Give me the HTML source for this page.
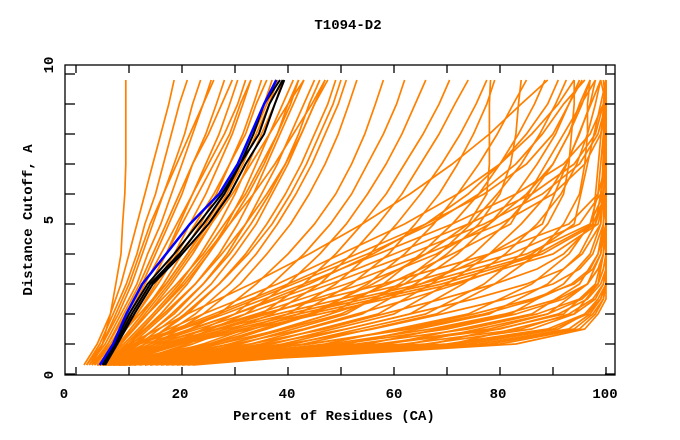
<!DOCTYPE html>
<html><head><meta charset="utf-8"><title>T1094-D2</title>
<style>
html,body{margin:0;padding:0;background:#fff;}
svg{display:block;}
text{font-family:"Liberation Mono","DejaVu Sans Mono",monospace;font-weight:bold;fill:#000;}
</style></head>
<body>
<svg id="chart" width="680" height="440" viewBox="0 0 680 440">
  <text x="348" y="29" font-size="14" text-anchor="middle">T1094-D2</text>
  <g id="lines"></g>
  <rect x="65" y="65" width="550" height="310" fill="none" stroke="#000" stroke-width="1.3"/>
  <g id="ticks"></g>
  <g id="xlabels"></g>
  <g id="ylabels"></g>
  <text x="334" y="420" font-size="14" text-anchor="middle">Percent of Residues (CA)</text>
  <text x="0" y="0" font-size="14" text-anchor="middle" transform="translate(32,220) rotate(-90)">Distance Cutoff, A</text>
</svg>
<script>
const cutoffsMain = [0.3,1,2,3,4,5,6,7,8,9,9.8];
const cutoffsLow = [0.3,0.6,1,1.5,2,2.5,3,3.5,4,5,9.8];
const mainCurves = [
[3,5,6.5,7.5,8.5,8.8,9.2,9.4,9.4,9.4,9.4],
[1.5,4,6.5,8.5,10,11.5,13,14.5,16,17.5,18.5],
[2,4.5,7,9.5,11.5,13,15,16.5,18,19.5,21],
[2,5,8,10.5,12.5,14.5,16.5,18.5,20.5,22,23.5],
[2.5,5.5,8.5,11.5,13.5,16,18,20,22,24,25.5],
[3,6,9.5,12.5,15,17.5,20,22,24.5,26.5,28],
[3,6.5,10.5,14,17,19.5,22,24.5,27,29,30.5],
[3.5,7,11.5,15,18.5,21.5,24.5,27,29.5,31.5,33],
[4,8,12.5,16.5,20,23.5,26.5,29,31.5,33.5,35],
[4,8.5,13.5,18,22,25.5,28.5,31,33.5,35.5,37],
[4.5,9,14.5,19.5,23.5,27,30,32.5,35,37.5,39],
[5,10,16,21,25,28.5,31.5,34,36.5,39,41],
[5,10.5,17,22.5,27,30.5,33.5,36,38.5,41,43],
[5.5,11,18.5,24,28.5,32,35,38,40.5,43,45],
[6,12,19.5,25.5,30,34,37,40,42.5,45,47],
[6,13,21,27,32,36,39.5,42.5,45,47.5,49],
[6.5,14,22.5,29,34,38,41.5,44.5,47,49.5,51],
[7,15,24,31,36,40.5,44,47,49.5,51.5,53],
[2.5,5,7.5,10,12,14,16.5,19,21.5,24,26],
[3,6,9,12,14.5,17,19.5,22,25,27.5,29.5],
[3.5,6.5,10,13,16,19,22,25,28,30.5,32],
[4,7.5,11.5,15.5,19,22.5,26,29,32,34,36],
[4.5,8,12.5,17,21,24.5,28,31,33.5,36,38],
[3,7,12,17,21,25,28.5,31.5,34,36.5,38],
[5,9.5,15,20.5,25,29,32.5,35.5,38,40,42],
[4,8,13.5,19,24,28,32,35,38,40.5,42],
[6,11.5,18,24,29,33,36.5,39.5,42,44,46],
[5,10,16.5,22.5,27.5,32,36,39.5,42.5,45,47.5],
[7,13,20.5,27,32.5,37,40.5,43.5,46,48.5,50],
[3.5,7,11,14,17,20,23,26,29,31,33],
[4.5,8.5,13,17.5,21.5,25.5,29.5,33,36.5,40,43],
[5.5,10,15,20,24.5,29,33.5,37.5,41,44.5,47],
[7,16,27,34,40,45,49,52,54.5,56.5,58],
[8,18,30,37,43,48,52,55,58,60.5,62],
[8,19,32,40,46,51,55,58.5,61.5,64,66],
[9,21,35,43,49,54,58.5,62,65.5,68.5,70.5],
[9,22,37,46,52,57,61.5,65,68.5,71.5,74],
[10,24,40,49,55.5,60.5,65,69,72.5,75.5,77.5],
[10,25,42,52,59,64,68.5,72,75,77.5,79],
[11,27,45,55,62,67.5,72,76,79.5,82.5,85],
[11,29,48,58,65,71,76,80,83.5,86.5,88.5],
[12,31,51,61,68.5,74.5,79.5,84,87.5,90.5,92.5],
[12,33,54,64,72,78,83,87,90.5,93,95],
[13,35,57,67,75,81,86,90,93,95.5,97],
[13,37,60,70,78,84,89,92.5,95,97,98],
[14,39,63,73,81,87,91.5,94.5,96.5,98,99],
[10,26,44,56,66,74,77.5,78,78,78,78.2],
[11,29,50,62,70,76,80,82,83,83.5,84],
[14,41,66,77,84,89,92,93,93.5,94,94],
[15,43,68,79,87,92,95,96,96.5,96.5,97],
[16,47,74,86,93,97,98.5,99,99.5,99.5,100],
[17,51,78,89,95,98,99,99.5,99.5,100,100],
[18,55,82,92,97,99,99.5,100,100,100,100],
[19,59,86,95,98.5,99.5,100,100,100,100,100],
[20,63,89,96.5,99,99.5,100,100,100,100,100],
[21,67,92,98,99.5,100,100,100,100,100,100],
[22,71,94,98.5,99.5,100,100,100,100,100,99.5],
[6,17,40,65,85,97,99.5,100,100,100,100],
[6,18,42,67,87,97.5,100,100,100,100,100],
[5.5,16,38,62,82,95,99,100,100,100,100],
[6.5,19,44,69,88,98,100,100,100,100,100],
[5,15,35,58,78,93,98.5,100,100,100,100],
[7,20,46,71,90,98.5,100,100,100,100,99],
[5,13,30,46,60,74,86,94,98,99.5,100],
[5,14,32,48,63,77,88,95,98.5,100,100],
[4.5,12,28,43,57,71,83,92,97,99.5,100],
[5.5,15,34,51,66,80,90,96,99,100,100],
[4,11,24,38,50,62,72,80,86,91,94],
[4.5,11.5,26,40,53,66,77,85,90,93,95.5],
[4,10,21,33,44,54,63,71,78,84,89],
[5,12,27,41,55,67,76,83,88,92,96],
[6,14,30,44,56,66,74,80,85,89,91],
[7,17,36,54,68,78,85,90,93,95,97]
];
const lowCurves = [
[8,40,76,93,97,99,100,100,100,100,100],
[9,43,80,95,98,99.5,100,100,100,100,100],
[9,38,72,90,96.5,99,100,100,100,100,100],
[10,46,83,96,98.5,100,100,100,100,100,100],
[8,34,66,86,94,98,99.5,100,100,100,100],
[7,30,58,80,91,96.5,99,100,100,100,100],
[7,27,53,74,87,95,98.5,99.5,100,100,100],
[6,24,48,67,81,91,96.5,98.5,99.5,100,100],
[6,22,44,62,75,86,94,97.5,99,100,100],
[5.5,20,40,56,69,81,90,95,97.5,99.5,100],
[5,18,36,51,63,75,85,92,95.5,99,100],
[5,17,33,47,58,69,79,87,92,97.5,100],
[4.5,15,30,43,53,63,72,80,86,94,100],
[4,14,27,39,48,57,65,72,78,88,99],
[4,13,25,36,44,52,59,65,71,82,98],
[8.5,41,78,94,97.5,99.5,100,100,100,100,100],
[7.5,36,70,89,96,98.5,100,100,100,100,100],
[8,38,74,91,96,99,100,100,100,100,100],
[6.5,30,62,84,93,97.5,99.5,100,100,100,100],
[6,28,57,78,89,95.5,98.5,99.5,100,100,100],
[5.5,24,50,70,83,92,96.5,98.5,99.5,100,100],
[5,21,44,63,77,87,93.5,97,98.5,100,100]
];
const blackCurves = [
[5.2,7.5,10.5,14,19.5,24,28,31,34.5,36.5,39],
[5,7.2,10,13.5,18.5,23,27.5,31,33.5,35.5,38.5],
[5.5,7.8,11,14.5,20,25,29,32,35.5,37.5,39.3]
];
const blueCurve = [4.5,7,9.5,12.5,17,21.5,27,30.5,33,35.5,37.8];
const xTickValues = [0,10,20,30,40,50,60,70,80,90,100];
const xTickLabels = ["0","20","40","60","80","100"];
const yTickValues = [0,1,2,3,4,5,6,7,8,9,10];
const yTickLabels = ["0","5","10"];

const NS = "http://www.w3.org/2000/svg";
function xs(v){ return 76 + 5.3 * v; }
function ys(v){ return 374 - 30 * v; }
function pts(vals, grid){
  return vals.map((p,i)=> xs(p).toFixed(1)+","+ys(grid[i]).toFixed(1)).join(" ");
}
const g = document.getElementById("lines");
function addLine(vals, grid, color, w, name){
  const pl = document.createElementNS(NS,"polyline");
  pl.setAttribute("points", pts(vals, grid));
  pl.setAttribute("fill","none");
  pl.setAttribute("stroke",color);
  pl.setAttribute("stroke-width",w);
  pl.setAttribute("stroke-linejoin","round");
  
  
  g.appendChild(pl);
}
lowCurves.forEach(c=>addLine(c, cutoffsLow, "#ff8000", 1.7, "model-curve"));
mainCurves.forEach(c=>addLine(c, cutoffsMain, "#ff8000", 1.7, "model-curve"));
blackCurves.forEach(c=>addLine(c, cutoffsMain, "#000", 2, "highlight-curve"));
addLine(blueCurve, cutoffsMain, "#0000ff", 2.5, "best-model-curve");

const tk = document.getElementById("ticks");
function tline(x1,y1,x2,y2,name){
  const l = document.createElementNS(NS,"line");
  l.setAttribute("x1",x1);l.setAttribute("y1",y1);l.setAttribute("x2",x2);l.setAttribute("y2",y2);
  l.setAttribute("stroke","#000");l.setAttribute("stroke-width","1.3");
  
  
  tk.appendChild(l);
}
xTickValues.forEach(v=>{
  tline(xs(v),375,xs(v),367,"x-tick");
  tline(xs(v),65,xs(v),73,"x-tick-top");
});
yTickValues.forEach(v=>{
  tline(65,ys(v),75,ys(v),"y-tick");
  tline(615,ys(v),605,ys(v),"y-tick-right");
});
const xl = document.getElementById("xlabels");
const xLabelPos = [64,180,287,394,498,605];
xTickLabels.forEach((s,i)=>{
  const t = document.createElementNS(NS,"text");
  t.setAttribute("x",xLabelPos[i]);t.setAttribute("y",398);
  t.setAttribute("font-size","14");t.setAttribute("text-anchor","middle");
  t.textContent = s;
  
  
  xl.appendChild(t);
});
const yl = document.getElementById("ylabels");
const yLabelPos = [375,220,65];
yTickLabels.forEach((s,i)=>{
  const t = document.createElementNS(NS,"text");
  t.setAttribute("transform","translate(53,"+yLabelPos[i]+") rotate(-90)");
  t.setAttribute("font-size","14");t.setAttribute("text-anchor","middle");
  t.textContent = s;
  
  
  yl.appendChild(t);
});
</script>
</body></html>
